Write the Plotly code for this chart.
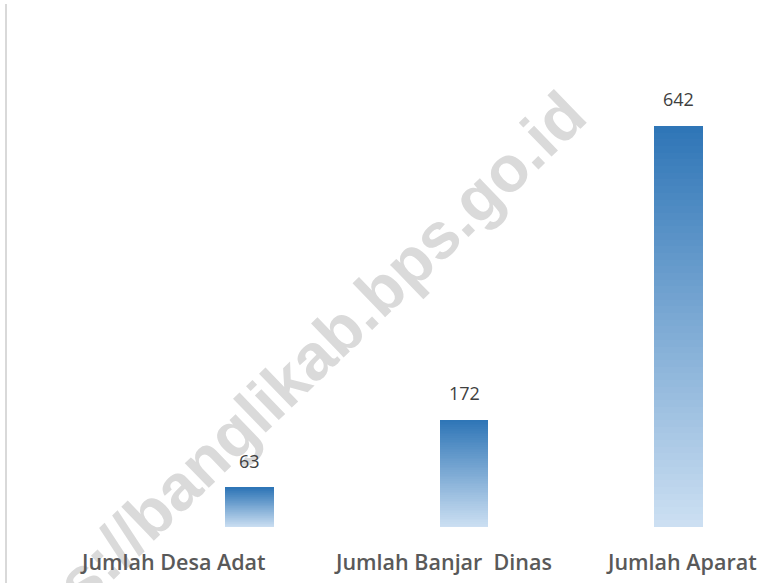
import plotly.graph_objects as go

categories = ["Jumlah Desa Adat", "Jumlah Banjar  Dinas", "Jumlah Aparat"]
values = [63, 172, 642]
watermark = "https://banglikab.bps.go.id"

N_SEG = 60
top_rgb = (46, 117, 182)
bottom_rgb = (205, 224, 243)
label_xshift = [-77, -21, 3]

fig = go.Figure()
for k in range(N_SEG):
    t = (k + 0.5) / N_SEG
    c = tuple(round(bottom_rgb[i] + (top_rgb[i] - bottom_rgb[i]) * t) for i in range(3))
    fig.add_trace(go.Bar(
        x=categories,
        y=[v / N_SEG for v in values],
        marker=dict(color="rgb(%d,%d,%d)" % c, line=dict(width=0)),
        showlegend=False,
        hoverinfo="skip",
    ))

annotations = [dict(
    text=watermark, xref="paper", yref="paper", x=0.358, y=0.333,
    xanchor="center", yanchor="middle", textangle=-44, showarrow=False,
    font=dict(family="Liberation Sans", size=65, color="#dadada", weight="bold"),
)]
for cat, v, xs in zip(categories, values, label_xshift):
    annotations.append(dict(
        x=cat, y=v, text=str(v), showarrow=False, yanchor="bottom", yshift=13,
        font=dict(family="Open Sans", size=18, color="#404040"),
    ))
    annotations.append(dict(
        x=cat, y=0, text=cat.replace("  ", "&nbsp; "), showarrow=False,
        yanchor="middle", yshift=-35, xshift=xs,
        font=dict(family="Open Sans", size=21.5, color="#595959", weight=600),
    ))

fig.update_layout(
    width=761, height=583,
    margin=dict(l=7, r=0, t=4, b=0),
    barmode="stack", bargap=0.775,
    paper_bgcolor="white", plot_bgcolor="white",
    xaxis=dict(range=[-1.1305, 2.3846], showticklabels=False, showline=False,
               showgrid=False, zeroline=False, ticks=""),
    yaxis=dict(range=[-89.7, 837.3], showticklabels=False, showgrid=False,
               zeroline=False, showline=True, linecolor="#d9d9d9", linewidth=2, ticks=""),
    annotations=annotations,
)

fig.write_html("out.html", config={"displayModeBar": False},
               post_script="document.body.style.margin='0px';")
